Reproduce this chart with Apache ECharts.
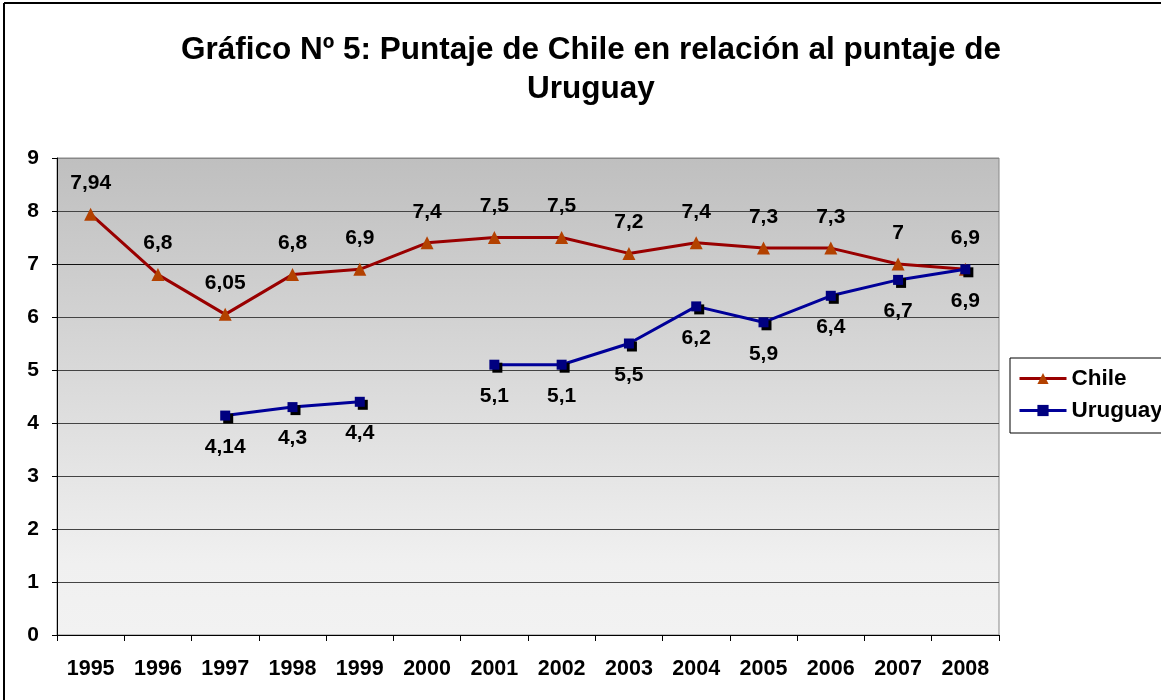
<!DOCTYPE html>
<html><head><meta charset="utf-8">
<script src="https://cdn.jsdelivr.net/npm/echarts@6/dist/echarts.min.js"></script>
<style>html,body{margin:0;padding:0;background:#fff}#c{width:1161px;height:700px}</style>
</head><body><div id="c"></div>
<script>
const years = ['1995','1996','1997','1998','1999','2000','2001','2002','2003','2004','2005','2006','2007','2008'];
const chile = [7.94, 6.8, 6.05, 6.8, 6.9, 7.4, 7.5, 7.5, 7.2, 7.4, 7.3, 7.3, 7, 6.9];
const uruguay = [null, null, 4.14, 4.3, 4.4, null, 5.1, 5.1, 5.5, 6.2, 5.9, 6.4, 6.7, 6.9];
const yTicks = [0,1,2,3,4,5,6,7,8,9];

const FONT = '"Liberation Sans", Arial, sans-serif';
const fmt = p => String(p.value).replace('.', ',');

const chart = echarts.init(document.getElementById('c'));
chart.setOption({
  animation: false,
  backgroundColor: '#fff',
  title: {
    text: 'Gráfico Nº 5: Puntaje de Chile en relación al puntaje de\nUruguay',
    left: 586, top: 26, textAlign: 'center',
    textStyle: { fontFamily: FONT, fontWeight: 'bold', fontSize: 31.5, lineHeight: 39, color: '#000' }
  },
  graphic: [
    { type: 'line', shape: { x1: 4, y1: 3, x2: 1161, y2: 3 }, style: { stroke: '#000', lineWidth: 2 } },
    { type: 'line', shape: { x1: 4, y1: 3, x2: 4, y2: 700 }, style: { stroke: '#000', lineWidth: 2 } }
  ],
  legend: {
    orient: 'vertical', left: 1010, top: 358,
    borderColor: '#000', borderWidth: 1, padding: [9, 8, 11, 8],
    itemWidth: 47, itemHeight: 14, itemGap: 9,
    lineStyle: { width: 3 },
    textStyle: { fontFamily: FONT, fontWeight: 'bold', fontSize: 22.5, color: '#000' },
    data: ['Chile', 'Uruguay']
  },
  grid: {
    left: 57, right: 162, top: 158, bottom: 65, show: true,
    borderColor: '#888', borderWidth: 1,
    backgroundColor: new echarts.graphic.LinearGradient(0, 0, 0, 1, [
      { offset: 0, color: '#bfbfbf' }, { offset: 0.85, color: '#f0f0f0' }, { offset: 1, color: '#f2f2f2' }
    ])
  },
  xAxis: {
    type: 'category', data: years, boundaryGap: true,
    axisLine: { lineStyle: { color: '#000', width: 1 } },
    axisTick: { show: true, length: 6, alignWithLabel: false, lineStyle: { color: '#000' } },
    axisLabel: { margin: 23, fontFamily: FONT, fontWeight: 'bold', fontSize: 21.5, color: '#000', interval: 0 }
  },
  yAxis: {
    type: 'value', min: yTicks[0], max: yTicks[yTicks.length - 1], interval: 1,
    axisLine: { show: true, lineStyle: { color: '#000', width: 1 } },
    axisTick: { show: true, length: 5, lineStyle: { color: '#000' } },
    axisLabel: { margin: 18, fontFamily: FONT, fontWeight: 'bold', fontSize: 21, color: '#000' },
    splitLine: { show: true, lineStyle: { color: ['#000','#444','#444','#444','#444','#444','#444','#111','#444','#888'], width: 1 } }
  },
  series: [
    {
      name: 'Chile', type: 'line', data: chile,
      symbol: 'triangle', symbolSize: 13,
      lineStyle: { color: '#990000', width: 3 },
      itemStyle: { color: '#b34100' },
      label: { show: true, position: 'top', distance: 14, formatter: fmt,
        fontFamily: FONT, fontWeight: 'bold', fontSize: 21, color: '#000' },
      z: 3
    },
    {
      name: 'Uruguay', type: 'line', data: uruguay, connectNulls: false,
      symbol: 'rect', symbolSize: 10,
      lineStyle: { color: '#000099', width: 3 },
      itemStyle: { color: '#000080', shadowColor: '#000', shadowOffsetX: 3, shadowOffsetY: 3, shadowBlur: 0 },
      label: { show: true, position: 'bottom', distance: 16, formatter: fmt,
        fontFamily: FONT, fontWeight: 'bold', fontSize: 21, color: '#000' },
      z: 4
    }
  ]
});
</script></body></html>
